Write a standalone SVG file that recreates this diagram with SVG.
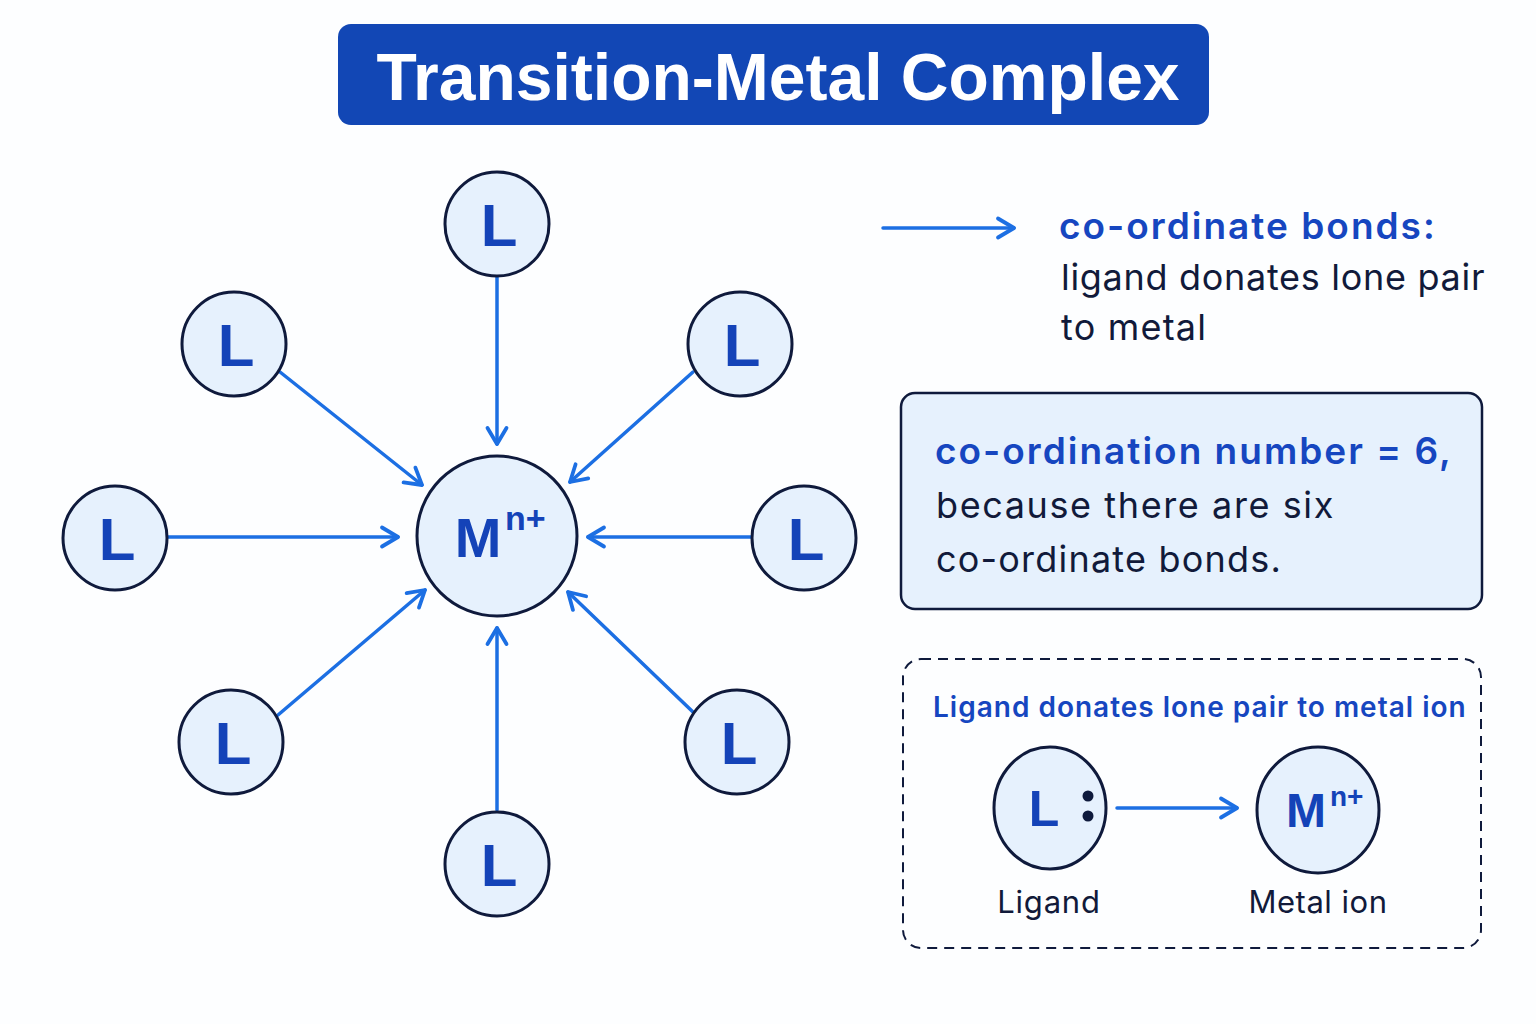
<svg xmlns="http://www.w3.org/2000/svg" width="1536" height="1024" viewBox="0 0 1536 1024">
<defs>
<marker id="ah" markerUnits="userSpaceOnUse" markerWidth="26" markerHeight="26" viewBox="0 0 26 26" refX="22" refY="13" orient="auto">
<path d="M6,3.5 L22,13 L6,22.5" fill="none" stroke="#1c6fe3" stroke-width="3.8" stroke-linecap="round" stroke-linejoin="round"/>
</marker>
<style>
.node{fill:#e6f1fd;stroke:#0f1a3c;stroke-width:3}
.lt{font-family:"Liberation Sans",Arial,sans-serif;font-weight:bold;font-size:60px;fill:#1443b8;text-anchor:middle}
.sup{font-family:"Liberation Sans",Arial,sans-serif;font-weight:bold;font-size:34px;fill:#1443b8}
.bond{stroke:#1c6fe3;stroke-width:3.5;fill:none;marker-end:url(#ah);stroke-linecap:round}
.hb{font-family:Inter,"Noto Sans",sans-serif;font-weight:600;font-size:37px;letter-spacing:2px;fill:#1646c0}
.tx{font-family:Inter,"Noto Sans",sans-serif;font-size:36px;letter-spacing:1.2px;fill:#111a3a}
</style>
</defs>
<rect width="1536" height="1024" fill="#fdfeff"/>
<g id="title">
<rect x="338" y="24" width="871" height="101" rx="13" fill="#1247b5"/>
<text x="778" y="100" text-anchor="middle" font-family="Liberation Sans,Arial,sans-serif" font-weight="bold" font-size="66" fill="#ffffff">Transition-Metal Complex</text>
</g>
<g id="connectors">
<line class="bond" x1="497" y1="277" x2="497" y2="444"/>
<line class="bond" x1="280" y1="372" x2="422" y2="485"/>
<line class="bond" x1="693" y1="372" x2="570" y2="482"/>
<line class="bond" x1="168" y1="537" x2="398" y2="537"/>
<line class="bond" x1="752" y1="537" x2="588" y2="537"/>
<line class="bond" x1="278" y1="715" x2="425" y2="590"/>
<line class="bond" x1="693" y1="712" x2="568" y2="592"/>
<line class="bond" x1="497" y1="810" x2="497" y2="628"/>
<line class="bond" x1="883" y1="228" x2="1014" y2="228"/>
<line class="bond" x1="1117" y1="808" x2="1237" y2="808"/>
</g>
<g id="metal">
<circle class="node" cx="497" cy="536" r="80"/>
<text x="478" y="557" class="lt" style="font-size:56px">M</text>
<text x="505" y="530" class="sup">n+</text>
</g>
<g id="L1"><circle class="node" cx="497" cy="224" r="52"/><text class="lt" x="499" y="246">L</text></g>
<g id="L2"><circle class="node" cx="234" cy="344" r="52"/><text class="lt" x="236" y="366">L</text></g>
<g id="L3"><circle class="node" cx="740" cy="344" r="52"/><text class="lt" x="742" y="366">L</text></g>
<g id="L4"><circle class="node" cx="115" cy="538" r="52"/><text class="lt" x="117" y="560">L</text></g>
<g id="L5"><circle class="node" cx="804" cy="538" r="52"/><text class="lt" x="806" y="560">L</text></g>
<g id="L6"><circle class="node" cx="231" cy="742" r="52"/><text class="lt" x="233" y="764">L</text></g>
<g id="L7"><circle class="node" cx="737" cy="742" r="52"/><text class="lt" x="739" y="764">L</text></g>
<g id="L8"><circle class="node" cx="497" cy="864" r="52"/><text class="lt" x="499" y="886">L</text></g>
<g id="legend">
<text class="hb" x="1059" y="239">co-ordinate bonds:</text>
<text class="tx" x="1061" y="290" style="letter-spacing:0.7px">ligand donates lone pair</text>
<text class="tx" x="1061" y="340">to metal</text>
</g>
<g id="cn-box">
<rect x="901" y="393" width="581" height="216" rx="14" fill="#e6f1fd" stroke="#0f1a3c" stroke-width="2.5"/>
<text class="hb" x="935" y="464">co-ordination number = 6,</text>
<text class="tx" x="936" y="518" style="letter-spacing:1.6px">because there are six</text>
<text class="tx" x="936" y="572">co-ordinate bonds.</text>
</g>
<g id="inset">
<rect x="903" y="659" width="578" height="289" rx="18" fill="none" stroke="#0f1a3c" stroke-width="2" stroke-dasharray="10 7"/>
<text x="933" y="717" font-family="Inter,Noto Sans,sans-serif" font-weight="600" font-size="28" letter-spacing="1" fill="#1646c0">Ligand donates lone pair to metal ion</text>
<g id="inset-L">
<ellipse class="node" cx="1050" cy="808" rx="56" ry="61"/>
<text class="lt" x="1044" y="826" style="font-size:50px">L</text>
<circle cx="1088" cy="796" r="5.5" fill="#0f1a3c"/>
<circle cx="1088" cy="816" r="5.5" fill="#0f1a3c"/>
</g>
<g id="inset-M">
<ellipse class="node" cx="1318" cy="810" rx="61" ry="63"/>
<text class="lt" x="1306" y="827" style="font-size:48px">M</text>
<text class="sup" x="1330" y="806" style="font-size:28px">n+</text>
</g>
<text class="tx" x="1049" y="913" text-anchor="middle" style="font-size:31px;letter-spacing:0.8px">Ligand</text>
<text class="tx" x="1318" y="913" text-anchor="middle" style="font-size:31px;letter-spacing:0.5px">Metal ion</text>
</g>
</svg>
